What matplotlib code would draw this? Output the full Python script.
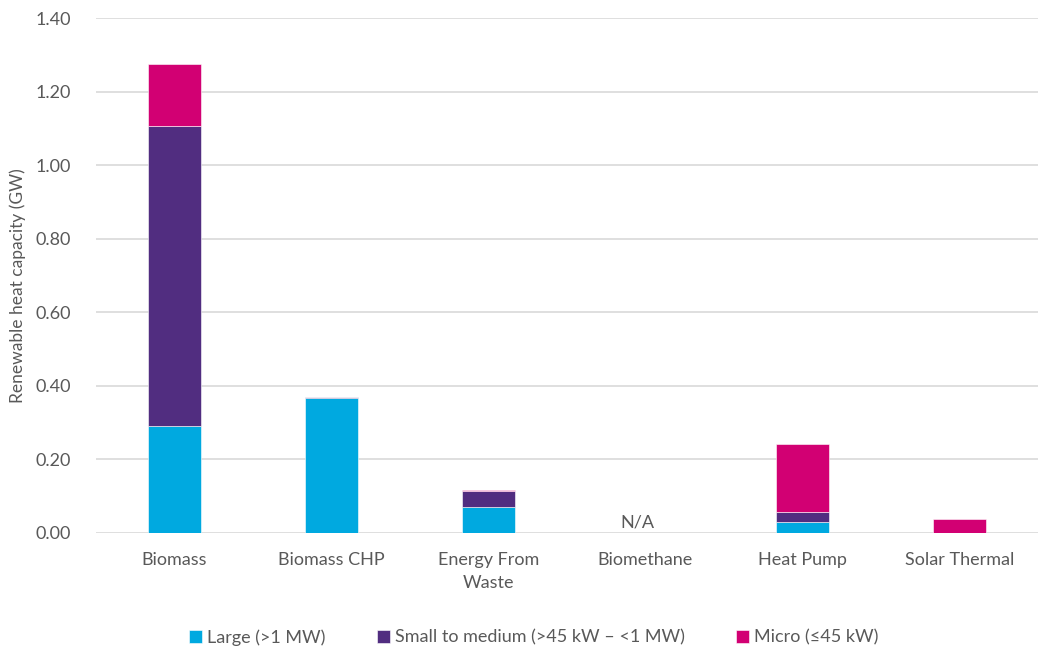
import numpy as np
import matplotlib
matplotlib.use("Agg")
from matplotlib import pyplot as plt

# Dados ----------------------------->>>>>
categories = ["Biomass", "Biomass CHP", "Energy From\nWaste", "Biomethane", "Heat Pump", "Solar Thermal"]
large = [0.291, 0.367, 0.071, 0.0, 0.030, 0.0]
small_medium = [0.815, 0.004, 0.044, 0.0, 0.027, 0.0]
micro = [0.169, 0.0, 0.002, 0.0, 0.185, 0.038]
series_names = ["Large (>1 MW)", "Small to medium (>45 kW \u2013 <1 MW)", "Micro (\u226445 kW)"]
colors = ["#00A9E0", "#512D80", "#D20073"]
yticks = [0.0, 0.2, 0.4, 0.6, 0.8, 1.0, 1.2, 1.4]

plt.rcParams['font.family'] = ['Lato', 'DejaVu Sans']
grey = "#595959"

fig = plt.figure(figsize=(10.44, 6.48), dpi=100)
ax = fig.add_axes([0.092, 0.1775, 0.902, 0.7945])

x = np.arange(len(categories))
width = 0.34
bottom = np.zeros(len(categories))
for vals, name, col in zip([large, small_medium, micro], series_names, colors):
    ax.bar(x, vals, width, bottom=bottom, color=col, label=name,
           edgecolor="white", linewidth=0.4, zorder=3)
    bottom = bottom + np.array(vals)

# N/A para Biomethane
ax.text(3 - 0.05, 0.008, "N/A", ha="center", va="bottom", fontsize=13, color=grey)

ax.set_xlim(-0.5, len(categories) - 0.5)
ax.set_ylim(0, 1.4)
ax.set_yticks(yticks)
ax.set_yticklabels([f"{v:.2f}" for v in yticks], fontsize=13, color=grey)
ax.set_xticks(x)
ax.set_xticklabels(categories, fontsize=13, color=grey, linespacing=1.5)
ax.tick_params(axis="x", length=0, pad=14)
ax.tick_params(axis="y", length=0, pad=18)
ax.yaxis.grid(True, color="#D9D9D9", linewidth=1.2, zorder=0)
ax.set_axisbelow(True)
for s in ax.spines.values():
    s.set_visible(False)

ax.set_ylabel("Renewable heat capacity (GW)", fontsize=12.5, color=grey)
ax.yaxis.set_label_coords(-0.074, 0.48)

ax.legend(loc="upper center", bbox_to_anchor=(0.465, -0.155), ncol=3, frameon=False,
          fontsize=13, labelcolor=grey, handlelength=0.7, handleheight=0.7,
          handletextpad=0.3, columnspacing=2.85)

fig.savefig("out.png", dpi=100)
